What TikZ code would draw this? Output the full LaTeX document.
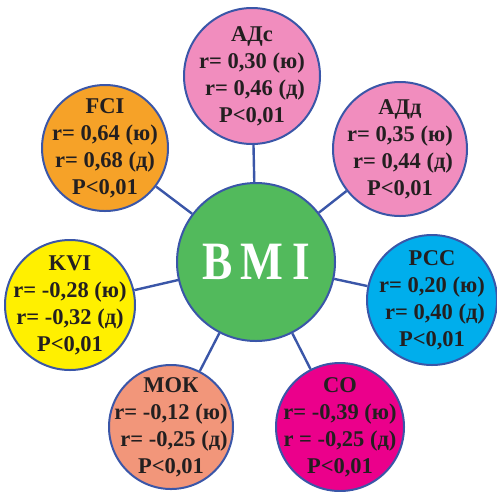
\documentclass[tikz,border=0pt]{standalone}
\usepackage{fontspec}
\setmainfont{Liberation Serif}[BoldFont={Liberation Serif Bold}]
\usepackage{graphicx}
\usepackage{tikz}
\usetikzlibrary{backgrounds}
\usepackage{xcolor}
\definecolor{linkblue}{RGB}{58,86,168}
\definecolor{bmigreen}{RGB}{82,186,92}
\definecolor{adpink}{RGB}{241,141,190}
\definecolor{fciorange}{RGB}{246,162,40}
\definecolor{kviyellow}{RGB}{255,240,0}
\definecolor{pccblue}{RGB}{0,174,236}
\definecolor{comagenta}{RGB}{235,0,139}
\definecolor{moksalmon}{RGB}{242,150,122}
\definecolor{inkblack}{RGB}{35,31,32}

\begin{document}
\begin{tikzpicture}[
        x=1pt, y=-1pt,
        % negative inner sep: the circle size comes from minimum size only
        disc/.style={circle, draw=linkblue, line width=2pt, align=center,
                     inner sep=-24pt, text=inkblack,
                     font=\bfseries\fontsize{22.5}{27}\selectfont},
        hub/.style={disc, fill=bmigreen, minimum size=158pt, text=white,
                    font=\bfseries\fontsize{54}{60}\selectfont},
        link/.style={linkblue, line width=2.4pt},
    ]

    % fixed page frame
    \useasboundingbox (0,0) rectangle (497,491);

    \def\dsh{\hspace*{6pt}}

    % ---------- centre ----------------------------------------------------
    \node[hub] (bmi) at (256,262)
        {\scalebox{0.84}[1]{B\kern10pt M\kern10pt I}};

    % ---------- indices around it ----------------------------------------
    \node[disc, fill=adpink, minimum size=136pt] (adc) at (252,76)
        {АДс\\r= 0,30 (ю)\\\dsh r= 0,46 (д)\\P<0,01};
    \node[disc, fill=adpink, minimum size=134pt] (add) at (400,149)
        {АДд\\r= 0,35 (ю)\\\dsh r= 0,44 (д)\\P<0,01};
    \node[disc, fill=pccblue, minimum size=130pt] (pcc) at (432,300)
        {РСС\\r= 0,20 (ю)\\\dsh r= 0,40 (д)\\P<0,01};
    \node[disc, fill=comagenta, minimum size=128pt] (co) at (340,427)
        {СО\\r= -0,39 (ю)\\r = -0,25 (д)\\P<0,01};
    \node[disc, fill=moksalmon, minimum size=124pt] (mok) at (171,427)
        {МОК\\r= -0,12 (ю)\\\dsh r= -0,25 (д)\\P<0,01};
    \node[disc, fill=kviyellow, minimum size=130pt] (kvi) at (70,305)
        {KVI\\r= -0,28 (ю)\\r= -0,32 (д)\\P<0,01};
    \node[disc, fill=fciorange, minimum size=126pt] (fci) at (105,148)
        {FCI\\r= 0,64 (ю)\\r= 0,68 (д)\\P<0,01};

    % ---------- spokes ----------------------------------------------------
    \begin{pgfonlayer}{background}
        \foreach \s in {adc, add, pcc, co, mok, kvi, fci}
            \draw[link] (bmi) -- (\s);
    \end{pgfonlayer}

\end{tikzpicture}
\end{document}
